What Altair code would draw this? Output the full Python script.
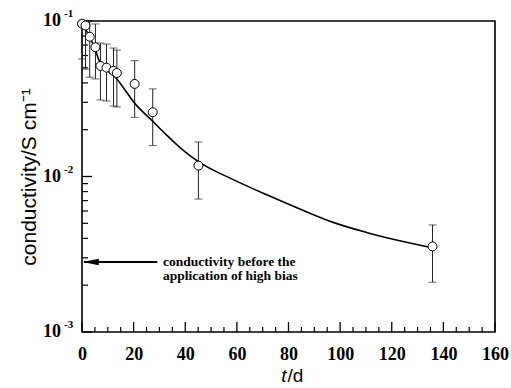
import altair as alt
import pandas as pd

# measured points (t in days, conductivity in S/cm)
days = [0, 1.35, 3.0, 5.2, 7.15, 9.5, 12.2, 13.5, 20.4, 27.4, 45.1, 135.8]
cond = [0.096, 0.0935, 0.0792, 0.0678, 0.0514, 0.0501, 0.0478, 0.0463, 0.0394, 0.0259, 0.01175, 0.00355]
err_low = [0.057, 0.049, 0.0435, 0.0424, 0.031, 0.0306, 0.0284, 0.028, 0.024, 0.0158, 0.00716, 0.00209]
err_high = [0.1, 0.1, 0.1, 0.0957, 0.0722, 0.0711, 0.067, 0.065, 0.0556, 0.0366, 0.01667, 0.00488]

# fitted curve
fit_days = [0.2, 2.3, 4.56, 6.9, 12.95, 20.7, 27.1, 32.9, 38.1, 45.1, 58.6, 71.6, 84.4, 97.3, 110.2, 123.1, 134.7]
fit_cond = [0.0957, 0.083, 0.0693, 0.0545, 0.0435, 0.0292, 0.0229, 0.0184, 0.0153, 0.01245, 0.00955, 0.00762,
            0.00618, 0.00507, 0.00437, 0.00386, 0.00351]

# axis ticks
x_major = [0, 20, 40, 60, 80, 100, 120, 140, 160]
x_minor = [5, 10, 15, 25, 30, 35, 45, 50, 55, 65, 70, 75, 85, 90, 95, 105, 110, 115, 125, 130, 135, 145, 150, 155]
y_major = [0.001, 0.01, 0.1]
y_exp = ["-3", "-2", "-1"]
y_minor = [0.002, 0.003, 0.004, 0.005, 0.006, 0.007, 0.008, 0.009,
           0.02, 0.03, 0.04, 0.05, 0.06, 0.07, 0.08, 0.09]

# annotation
arrow_level = 0.00282
arrow_from, arrow_to = 29.2, 0.8
arrow_head_t = 3.4
note_t = 31.4
note_text = "conductivity before the\napplication of high bias"

W, H = 413, 311
SERIF = "Liberation Serif"
SANS = "Liberation Sans"

xs = alt.Scale(domain=[0, 160], nice=False, zero=False)
ys = alt.Scale(type="log", domain=[0.001, 0.1], nice=False)

xaxis = alt.Axis(values=x_major, format="d", grid=False, ticks=False, tickSize=0, domain=False,
                 labelFont=SERIF, labelFontWeight="bold", labelFontSize=18, labelColor="black",
                 labelPadding=13, labelFlush=False, title=None)
yaxis = alt.Axis(values=y_major, grid=False, ticks=False, tickSize=0, domain=False, labels=False,
                 title="conductivity/S cm⁻¹", titleFont=SANS, titleFontSize=21,
                 titleFontWeight="normal", titleColor="black", titlePadding=43)

pts = pd.DataFrame({"t": days, "v": cond, "lo": err_low, "hi": err_high})
fit = pd.DataFrame({"t": fit_days, "v": fit_cond})

X = alt.X("t:Q", scale=xs, axis=xaxis)
Y = alt.Y("v:Q", scale=ys, axis=yaxis)

bars = alt.Chart(pts).mark_rule(color="#222", strokeWidth=1).encode(
    x=X, y=alt.Y("lo:Q", scale=ys, axis=yaxis), y2="hi:Q")
cap_lo = alt.Chart(pts).mark_tick(orient="horizontal", color="#222", size=8, thickness=1).encode(
    x=X, y=alt.Y("lo:Q", scale=ys, axis=yaxis))
cap_hi = alt.Chart(pts).mark_tick(orient="horizontal", color="#222", size=8, thickness=1).encode(
    x=X, y=alt.Y("hi:Q", scale=ys, axis=yaxis))

line = alt.Chart(fit).mark_line(color="black", strokeWidth=1.6, interpolate="monotone").encode(x=X, y=Y)

circles = alt.Chart(pts).mark_point(shape="circle", size=80, filled=True, fill="white",
                                     stroke="black", strokeWidth=1, opacity=1).encode(x=X, y=Y)

# inward ticks
xmaj = alt.Chart(pd.DataFrame({"t": x_major})).mark_rule(color="black", strokeWidth=1.3).encode(
    x=X, y=alt.value(H), y2=alt.value(H - 10))
xmin = alt.Chart(pd.DataFrame({"t": x_minor})).mark_rule(color="black", strokeWidth=1.2).encode(
    x=X, y=alt.value(H), y2=alt.value(H - 5))
ymaj = alt.Chart(pd.DataFrame({"v": y_major})).mark_rule(color="black", strokeWidth=1.3).encode(
    y=Y, x=alt.value(0), x2=alt.value(10))
ymin = alt.Chart(pd.DataFrame({"v": y_minor})).mark_rule(color="black", strokeWidth=1.2).encode(
    y=Y, x=alt.value(0), x2=alt.value(6))

# y tick labels as 10^k
ylab_df = pd.DataFrame({"v": y_major, "e": y_exp})
ylab_base = alt.Chart(ylab_df).mark_text(text="10", font=SERIF, fontWeight="bold", fontSize=18,
                                         align="right", baseline="middle", color="black").encode(
    y=Y, x=alt.value(-21))
ylab_exp = alt.Chart(ylab_df).mark_text(font=SERIF, fontWeight="bold", fontSize=11,
                                        align="left", baseline="middle", dy=-7, color="black").encode(
    y=Y, x=alt.value(-18), text="e:N")

# x axis title: italic t followed by upright /d
xt_t = alt.Chart(pd.DataFrame({"s": ["t"]})).mark_text(
    font=SANS, fontStyle="italic", fontSize=19, align="right", baseline="middle", color="black").encode(
    text="s:N", x=alt.value(W / 2 - 2), y=alt.value(H + 44))
xt_d = alt.Chart(pd.DataFrame({"s": ["/d"]})).mark_text(
    font=SANS, fontSize=19, align="left", baseline="middle", color="black").encode(
    text="s:N", x=alt.value(W / 2 - 1), y=alt.value(H + 44))

# arrow annotation
arr_df = pd.DataFrame({"t": [arrow_from], "t2": [arrow_to], "v": [arrow_level]})
arrow = alt.Chart(arr_df).mark_rule(color="black", strokeWidth=1.8).encode(
    x=X, x2="t2:Q", y=Y)
head = alt.Chart(pd.DataFrame({"t": [arrow_head_t], "v": [arrow_level]})).mark_point(
    shape="M -1 0 L 1 -0.42 L 1 0.42 Z", size=256, filled=True, color="black", opacity=1,
    strokeWidth=0).encode(x=X, y=Y)
note = alt.Chart(pd.DataFrame({"t": [note_t], "v": [arrow_level], "s": [note_text]})).mark_text(
    font=SERIF, fontWeight="bold", fontSize=13.5, align="left", baseline="middle",
    lineBreak="\n", lineHeight=14, color="black").encode(x=X, y=Y, text="s:N")

chart = alt.layer(
    xmin, xmaj, ymin, ymaj, bars, cap_lo, cap_hi, line, circles,
    ylab_base, ylab_exp, xt_t, xt_d, arrow, head, note
).properties(
    width=W, height=H,
    autosize=alt.AutoSizeParams(type="none"),
    padding={"left": 82, "top": 21, "right": 16, "bottom": 56},
    background="white",
).configure_view(stroke="black", strokeWidth=1.6)

chart.save("out.html", embed_options={"renderer": "svg", "actions": False})
